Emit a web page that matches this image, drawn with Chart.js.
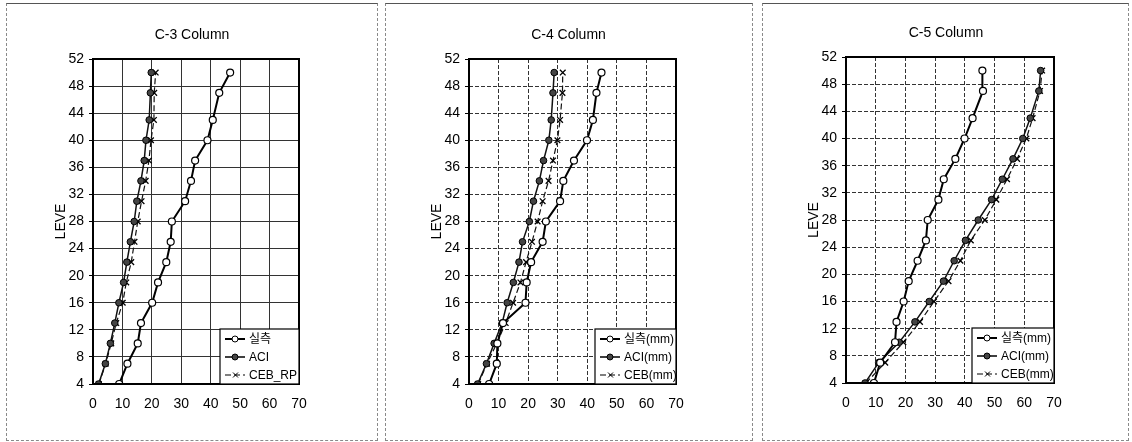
<!DOCTYPE html>
<html>
<head>
<meta charset="utf-8">
<script src="https://cdn.jsdelivr.net/npm/chart.js@4.4.1/dist/chart.umd.min.js"></script>
<style>
    body { margin: 0; background: #fff; width: 1132px; height: 442px; position: relative; overflow: hidden; }
    .panel { position: absolute; border: 1px dashed #8a8a8a; box-sizing: border-box; }
    canvas { position: absolute; left: 0; top: 0; }
</style>
</head>
<body>
<div class="panel" style="left:6px; top:3px; width:372px; height:438px; border-top:1px solid #555;"><canvas id="chart1" width="370" height="436"></canvas></div>
<div class="panel" style="left:385px; top:3px; width:368px; height:438px; border-top:1px solid #555;"><canvas id="chart2" width="366" height="436"></canvas></div>
<div class="panel" style="left:762px; top:3px; width:367px; height:438px; border-top:1px solid #555;"><canvas id="chart3" width="365" height="436"></canvas></div>
<script>
// floor levels (y axis)
const levels = [4, 7, 10, 13, 16, 19, 22, 25, 28, 31, 34, 37, 40, 43, 47, 50];
const xTicks = [0, 10, 20, 30, 40, 50, 60, 70];
const yTicks = [4, 8, 12, 16, 20, 24, 28, 32, 36, 40, 44, 48, 52];

// C-3 column
const c3Measured = [8.9, 11.7, 15.2, 16.3, 20.1, 22.1, 24.9, 26.4, 26.8, 31.3, 33.3, 34.7, 38.9, 40.7, 42.9, 46.6];
const c3Aci = [1.9, 4.2, 5.9, 7.4, 8.8, 10.4, 11.5, 12.7, 14.0, 14.9, 16.3, 17.4, 18.0, 19.1, 19.5, 19.8];
const c3Ceb = [2.0, 4.3, 6.2, 7.9, 10.1, 11.3, 13.0, 14.1, 15.2, 16.5, 17.9, 19.0, 19.7, 20.7, 20.8, 21.3];

// C-4 column
const c4Measured = [6.8, 9.4, 9.6, 11.5, 19.1, 19.5, 21.0, 24.9, 26.0, 30.8, 31.9, 35.5, 39.9, 41.9, 43.1, 44.8];
const c4Aci = [2.9, 5.9, 8.5, 11.2, 12.9, 15.0, 16.9, 18.1, 20.4, 21.8, 23.8, 25.2, 27.0, 27.8, 28.4, 28.8];
const c4Ceb = [3.1, 6.1, 9.4, 12.4, 14.9, 17.4, 19.3, 21.3, 23.2, 24.9, 26.9, 28.4, 29.9, 30.8, 31.6, 31.7];

// C-5 column
const c5Measured = [9.4, 11.5, 16.5, 17.0, 19.4, 21.1, 24.1, 26.9, 27.5, 31.1, 32.9, 36.8, 39.9, 42.6, 46.1, 45.9];
const c5Aci = [6.4, 11.0, 17.9, 23.2, 28.0, 32.8, 36.4, 40.2, 44.5, 49.0, 52.6, 56.2, 59.5, 62.0, 64.9, 65.5];
const c5Ceb = [6.7, 13.2, 19.3, 24.9, 29.6, 34.5, 38.5, 42.0, 46.7, 50.6, 54.2, 57.6, 60.7, 62.8, 65.3, 66.0];

const FONT = '"Liberation Sans", Arial, "Noto Sans CJK KR", sans-serif';

const toPoints = (values) => values.map((v, i) => ({x: v, y: levels[i]}));

// title, full frame and legend box drawn on top of the plot
const framePlugin = {
    id: 'frame',
    afterDraw(chart, args, opts) {
        const ctx = chart.ctx;
        const a = chart.chartArea;
        ctx.save();
        ctx.strokeStyle = '#000';
        ctx.lineWidth = 2;
        ctx.strokeRect(a.left, a.top, a.right - a.left, a.bottom - a.top);

        ctx.fillStyle = '#000';
        ctx.font = '14px ' + FONT;
        ctx.textAlign = 'center';
        ctx.textBaseline = 'middle';
        ctx.fillText(opts.title, (a.left + a.right) / 2 - 4, a.top - 24);

        // legend
        const w = opts.legendWidth;
        const h = 55;
        const lx = a.right - w;
        const ly = a.bottom - h;
        ctx.fillStyle = '#fff';
        ctx.fillRect(lx, ly, w, h);
        ctx.lineWidth = 1.2;
        ctx.strokeRect(lx, ly, w, h);
        chart.data.datasets.forEach((ds, i) => {
            const cy = ly + 10 + i * 18;
            ctx.beginPath();
            ctx.setLineDash(ds.borderDash || []);
            ctx.lineWidth = ds.borderWidth;
            ctx.strokeStyle = '#000';
            ctx.moveTo(lx + 5, cy);
            ctx.lineTo(lx + 25, cy);
            ctx.stroke();
            ctx.setLineDash([]);
            ctx.lineWidth = 1;
            if (ds.pointStyle === 'crossRot') {
                ctx.beginPath();
                ctx.moveTo(lx + 13, cy - 2.5); ctx.lineTo(lx + 18, cy + 2.5);
                ctx.moveTo(lx + 18, cy - 2.5); ctx.lineTo(lx + 13, cy + 2.5);
                ctx.stroke();
            } else {
                ctx.beginPath();
                ctx.arc(lx + 15, cy, 3, 0, Math.PI * 2);
                ctx.fillStyle = ds.pointBackgroundColor;
                ctx.fill();
                ctx.stroke();
            }
            ctx.fillStyle = '#000';
            ctx.font = '12px ' + FONT;
            ctx.textAlign = 'left';
            ctx.fillText(ds.label, lx + 29, cy + 1);
        });
        ctx.restore();
    }
};

const makeChart = (id, title, labels, measured, aci, ceb, pad, legendWidth, gridDash) => {
    const ctx = document.getElementById(id);
    return new Chart(ctx, {
        type: 'scatter',
        data: {
            datasets: [{
                label: labels[0],
                data: toPoints(measured),
                showLine: true,
                borderColor: '#000',
                borderWidth: 2,
                pointStyle: 'circle',
                pointRadius: 3.5,
                pointBorderWidth: 1.2,
                pointBorderColor: '#000',
                pointBackgroundColor: '#fff',
            }, {
                label: labels[1],
                data: toPoints(aci),
                showLine: true,
                borderColor: '#111',
                borderWidth: 1.5,
                pointStyle: 'circle',
                pointRadius: 3.3,
                pointBorderWidth: 1,
                pointBorderColor: '#000',
                pointBackgroundColor: '#444',
            }, {
                label: labels[2],
                data: toPoints(ceb),
                showLine: true,
                borderColor: '#111',
                borderWidth: 1.2,
                borderDash: [6, 3],
                pointStyle: 'crossRot',
                pointRadius: 4,
                pointBorderWidth: 1.3,
                pointBorderColor: '#000',
                pointBackgroundColor: '#000',
            }],
        },
        options: {
            responsive: false,
            devicePixelRatio: 1,
            animation: false,
            layout: {padding: pad},
            plugins: {
                legend: {display: false},
                tooltip: {enabled: false},
                frame: {title: title, legendWidth: legendWidth},
            },
            scales: {
                x: {
                    type: 'linear',
                    min: 0,
                    max: 70,
                    afterBuildTicks: (s) => { s.ticks = xTicks.map(v => ({value: v})); },
                    afterFit: (s) => { s.height = 30; },
                    grid: {color: '#333', lineWidth: 1, drawTicks: false},
                    border: {display: false, dash: gridDash},
                    ticks: {color: '#000', padding: 12, font: {family: FONT, size: 14}},
                },
                y: {
                    type: 'linear',
                    min: 4,
                    max: 52,
                    afterBuildTicks: (s) => { s.ticks = yTicks.map(v => ({value: v})); },
                    afterFit: (s) => { s.width = 40; },
                    grid: {color: '#333', lineWidth: 1, drawTicks: true, tickLength: 4, tickColor: '#000'},
                    border: {display: false, dash: gridDash},
                    ticks: {color: '#000', padding: 5, font: {family: FONT, size: 14}},
                    title: {display: true, text: 'LEVE', color: '#000', font: {family: FONT, size: 14}, padding: 0},
                },
            },
        },
        plugins: [framePlugin],
    });
};

makeChart('chart1', 'C-3 Column', ['실측', 'ACI', 'CEB_RP'], c3Measured, c3Aci, c3Ceb,
    {left: 46, right: 78, top: 55, bottom: 26}, 79, []);
makeChart('chart2', 'C-4 Column', ['실측(mm)', 'ACI(mm)', 'CEB(mm)'], c4Measured, c4Aci, c4Ceb,
    {left: 43, right: 76, top: 55, bottom: 26}, 81, [4, 2]);
makeChart('chart3', 'C-5 Column', ['실측(mm)', 'ACI(mm)', 'CEB(mm)'], c5Measured, c5Aci, c5Ceb,
    {left: 43, right: 74, top: 53, bottom: 27}, 82, [4, 2]);
</script>
</body>
</html>
